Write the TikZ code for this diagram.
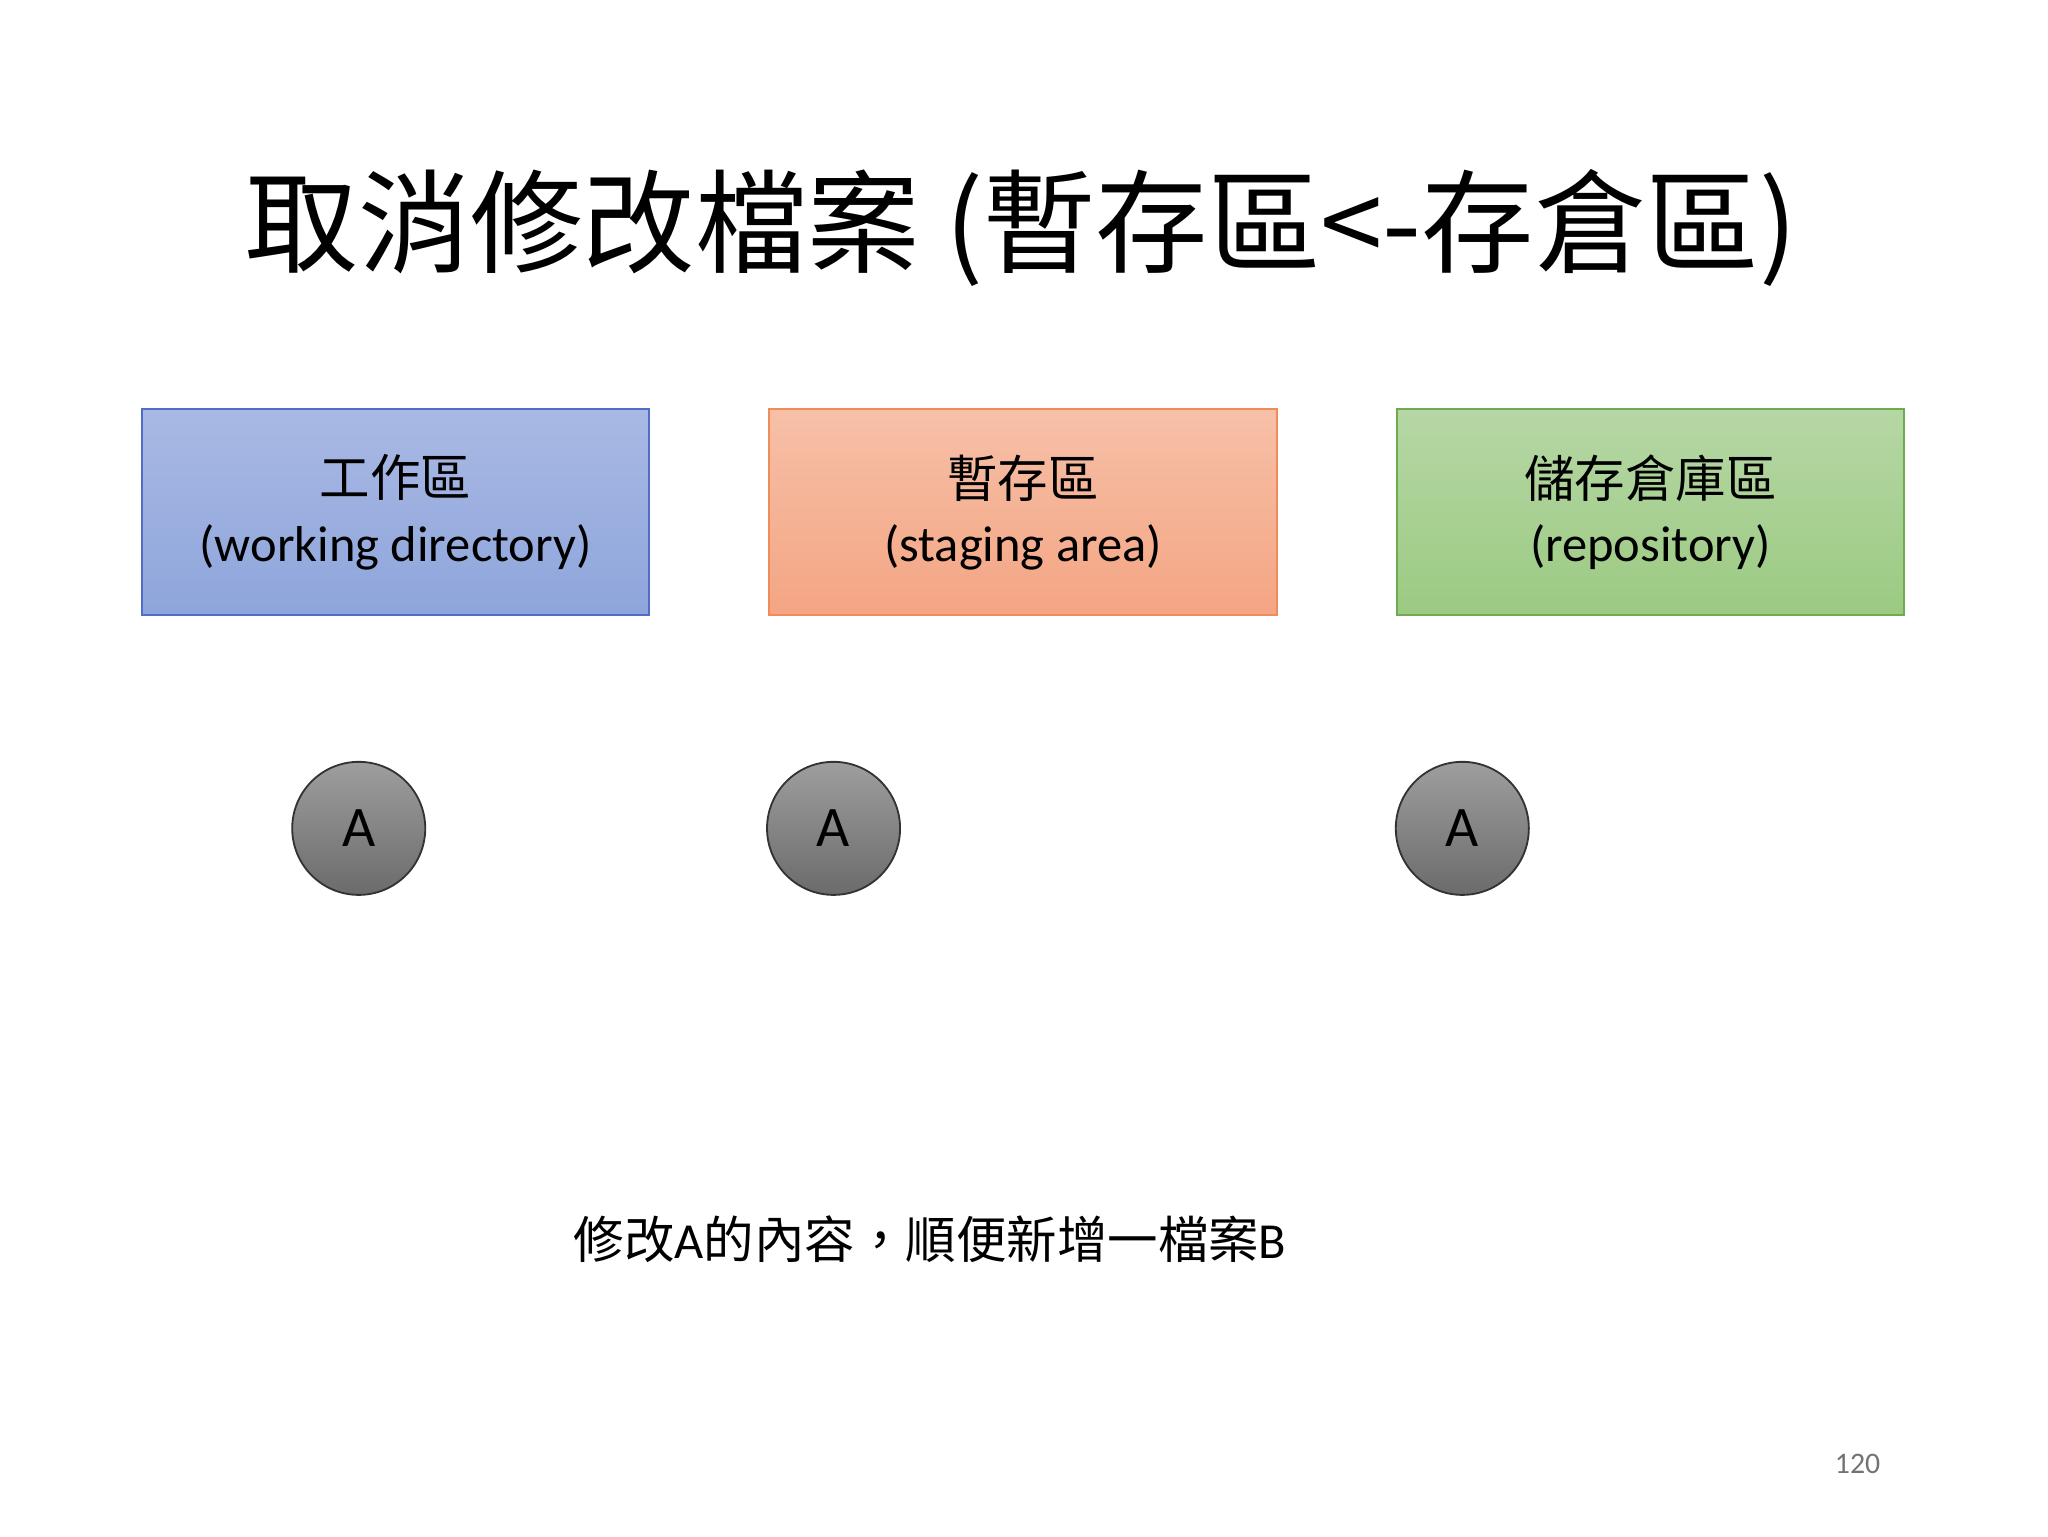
\documentclass[tikz,border=0pt]{standalone}
\usepackage{fontspec}
\setmainfont{Carlito}
\newfontfamily\cjk{Noto Sans CJK TC}
\begin{document}
\begin{tikzpicture}[x=0.01cm,y=-0.01cm,
  area/.style={draw=#1!70!black, minimum width=389*0.01cm, minimum height=158*0.01cm, anchor=north west, align=center, font=\fontsize{11}{14}\selectfont},
  file/.style={circle, draw=black!80, minimum size=102*0.01cm, top color=black!38, bottom color=black!58, font=\fontsize{12.5}{14}\selectfont}]
\useasboundingbox (0,0) rectangle (1570,1177.5);
\node at (783,175) {\cjk\fontsize{24.5}{27}\selectfont 取消修改檔案 (暫存區<-存倉區)};
\definecolor{bt}{HTML}{A9B9E4}\definecolor{bb}{HTML}{8EA5DB}
\definecolor{ot}{HTML}{F6C0A8}\definecolor{ob}{HTML}{F4A583}
\definecolor{gt}{HTML}{B6D7A5}\definecolor{gb}{HTML}{9BCA82}
\node[area=blue, draw={rgb,255:red,80;green,110;blue,200}, top color=bt, bottom color=bb] (wd) at (108,313) {{\cjk 工作區}\\(working directory)};
\node[area=orange, draw={rgb,255:red,240;green,140;blue,90}, top color=ot, bottom color=ob] (sa) at (589,313) {{\cjk 暫存區}\\(staging area)};
\node[area=green, draw={rgb,255:red,110;green,170;blue,80}, top color=gt, bottom color=gb] (rp) at (1070,313) {{\cjk 儲存倉庫區}\\(repository)};
\node[file] (a1) at (275,635) {A};
\node[file] (a2) at (639,635) {A};
\node[file] (a3) at (1121,635) {A};
\node (note) at (713,950) {\fontsize{11}{12}\selectfont{\cjk 修改}A{\cjk 的內容，順便新增一檔案}B};
\node[text=black!55] (pg) at (1424,1122) {\fontsize{6.5}{8}\selectfont 120};
\end{tikzpicture}
\end{document}
